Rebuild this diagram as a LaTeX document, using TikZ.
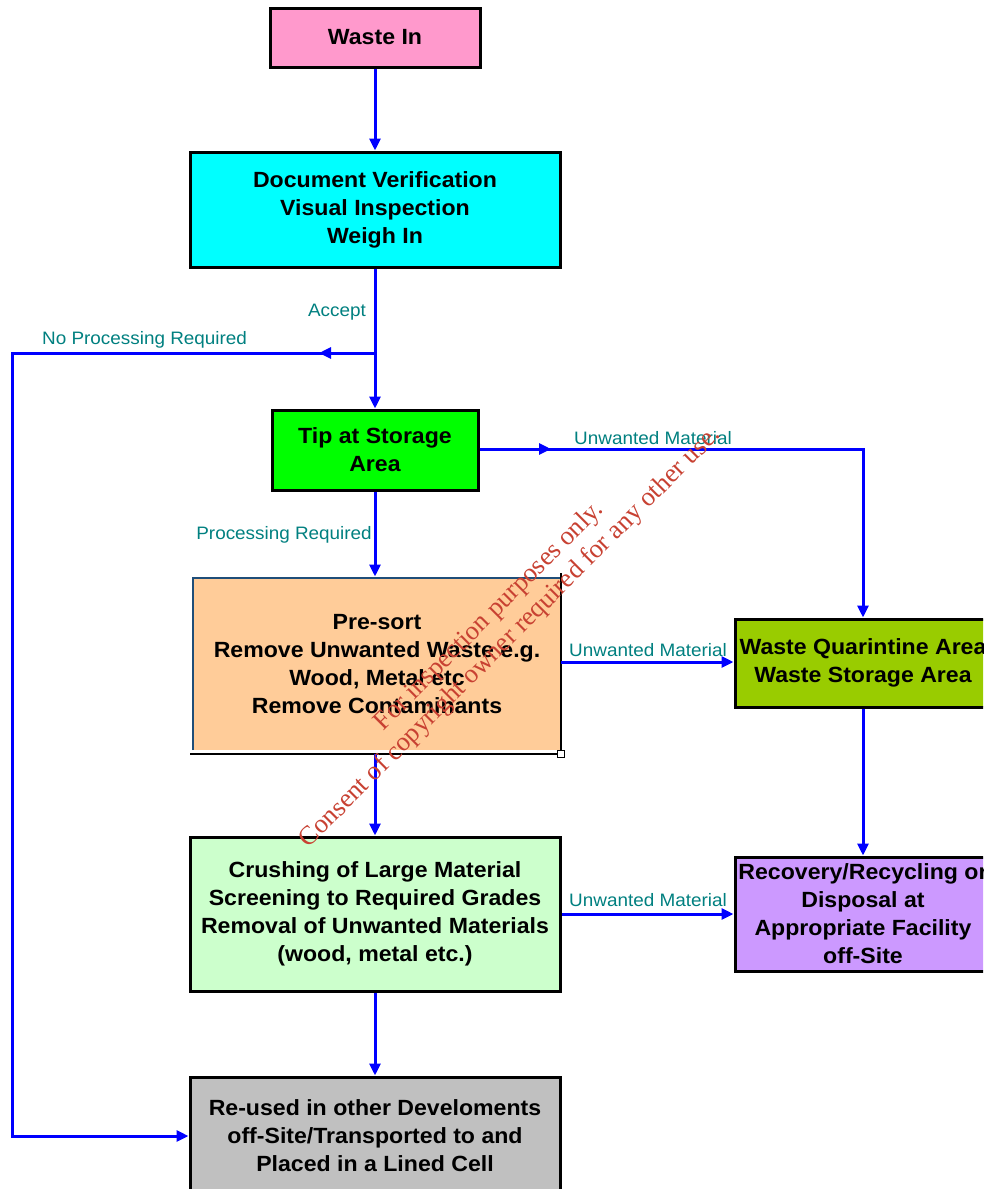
\documentclass[tikz,border=0pt]{standalone}
\usepackage{fontspec}
\setmainfont{Liberation Sans}
\newfontfamily\boxfont{Liberation Sans}[FakeStretch=1.05]
\newfontfamily\wmfont{Liberation Serif}
\usetikzlibrary{arrows.meta}
\definecolor{flowblue}{RGB}{0,0,255}
\definecolor{lblteal}{RGB}{0,128,128}
\definecolor{pinkbox}{RGB}{255,153,204}
\definecolor{cyanbox}{RGB}{0,255,255}
\definecolor{greenbox}{RGB}{0,255,0}
\definecolor{peachbox}{RGB}{255,204,153}
\definecolor{olivebox}{RGB}{153,204,0}
\definecolor{mintbox}{RGB}{204,255,204}
\definecolor{violetbox}{RGB}{204,153,255}
\definecolor{greybox}{RGB}{192,192,192}
\definecolor{wmred}{RGB}{200,65,50}
\definecolor{navyline}{RGB}{31,78,121}
\begin{document}
\begin{tikzpicture}[x=1pt,y=-1pt,
  box/.style={draw=black, line width=3pt, align=center, inner sep=0pt,
    font=\boxfont\bfseries\fontsize{22}{28}\selectfont},
  flow/.style={draw=flowblue, line width=3pt, -{Triangle[length=12pt,width=11pt]}},
  lbl/.style={text=lblteal, inner sep=0pt, font=\boxfont\fontsize{18}{20}\selectfont},
  wm/.style={text=wmred, align=center, rotate=45, inner sep=0pt,
    font=\wmfont\fontsize{26.5}{30}\selectfont}]
\useasboundingbox (0,0) rectangle (983,1189);
\clip (0,0) rectangle (983,1189);
\fill[white] (0,0) rectangle (983,1189);

% boxes
\node[box, fill=pinkbox, minimum width=210pt, minimum height=59pt] (wastein) at (375,37.5) {Waste In};
\node[box, fill=cyanbox, minimum width=370pt, minimum height=115pt] (docver) at (375,209.5)
  {Document Verification\\Visual Inspection\\Weigh In};
\node[box, fill=greenbox, minimum width=206pt, minimum height=80pt] (tip) at (375,450)
  {Tip at Storage\\Area};
\node[box, draw=none, fill=peachbox, minimum width=368pt, minimum height=172pt] (presort) at (377,664)
  {Pre-sort\\Remove Unwanted Waste e.g.\\Wood, Metal etc\\Remove Contaminants};
\node[box, fill=olivebox, minimum width=256pt, minimum height=88pt] (quar) at (863,663)
  {Waste Quarintine Area\\Waste Storage Area};
\node[box, fill=mintbox, minimum width=370pt, minimum height=154pt] (crush) at (375,914)
  {Crushing of Large Material\\Screening to Required Grades\\Removal of Unwanted Materials\\(wood, metal etc.)};
\node[box, fill=violetbox, minimum width=256pt, minimum height=114pt] (recov) at (863,914)
  {Recovery/Recycling or\\Disposal at\\Appropriate Facility\\off-Site};
\node[box, fill=greybox, minimum width=370pt, minimum height=118pt] (reuse) at (375,1136)
  {Re-used in other Develoments\\off-Site/Transported to and\\Placed in a Lined Cell};

% pre-sort odd border
\draw[navyline, line width=1.2pt] (193,750) -- (193,578) -- (561,578);
\draw[black, line width=1.2pt] (561,573) -- (561,754);
\draw[black, line width=1.2pt] (190,754) -- (561,754);
\draw[black, line width=1pt, fill=white] (557,750) rectangle (564,757);

% coordinates
\coordinate (br) at (375,353);
\coordinate (lc) at (12,353);
\coordinate (nparrow) at (319,353);
\coordinate (uwarrow) at (551,449);
\coordinate (psbot) at (375,754);
\coordinate (psright) at (561,662);

% connectors
\draw[flow] (wastein.south) -- (docver.north);
\draw[flow] (docver.south) -- (tip.north);
\draw[flow] (br) -- (lc) |- (reuse.west);
\draw[flow] (br) -- (nparrow);
\draw[flow] (tip.east |- 0,449) -| (quar.north);
\draw[flow] (tip.east |- 0,449) -- (uwarrow);
\draw[flow] (tip.south) -- (tip.south |- presort.north);
\draw[flow] (psright) -- (psright -| quar.west);
\draw[flow] (psbot) -- (crush.north);
\draw[flow] (quar.south) -- (recov.north);
\draw[flow] (crush.east) -- (recov.west);
\draw[flow] (crush.south) -- (reuse.north);

% labels
\node[lbl, anchor=east] (laccept) at (366,312) {Accept};
\node[lbl, anchor=west] (lnoproc) at (42,340) {No Processing Required};
\node[lbl, anchor=west] (luw1) at (574,438) {Unwanted Material};
\node[lbl, anchor=east] (lproc) at (372,535) {Processing Required};
\node[lbl, anchor=west] (luw2) at (569,650) {Unwanted Material};
\node[lbl, anchor=west] (luw3) at (569,900) {Unwanted Material};

% watermark
\node[wm] (wmark) at (500,627) {For inspection purposes only.\\Consent of copyright owner required for any other use.};
\end{tikzpicture}
\end{document}
